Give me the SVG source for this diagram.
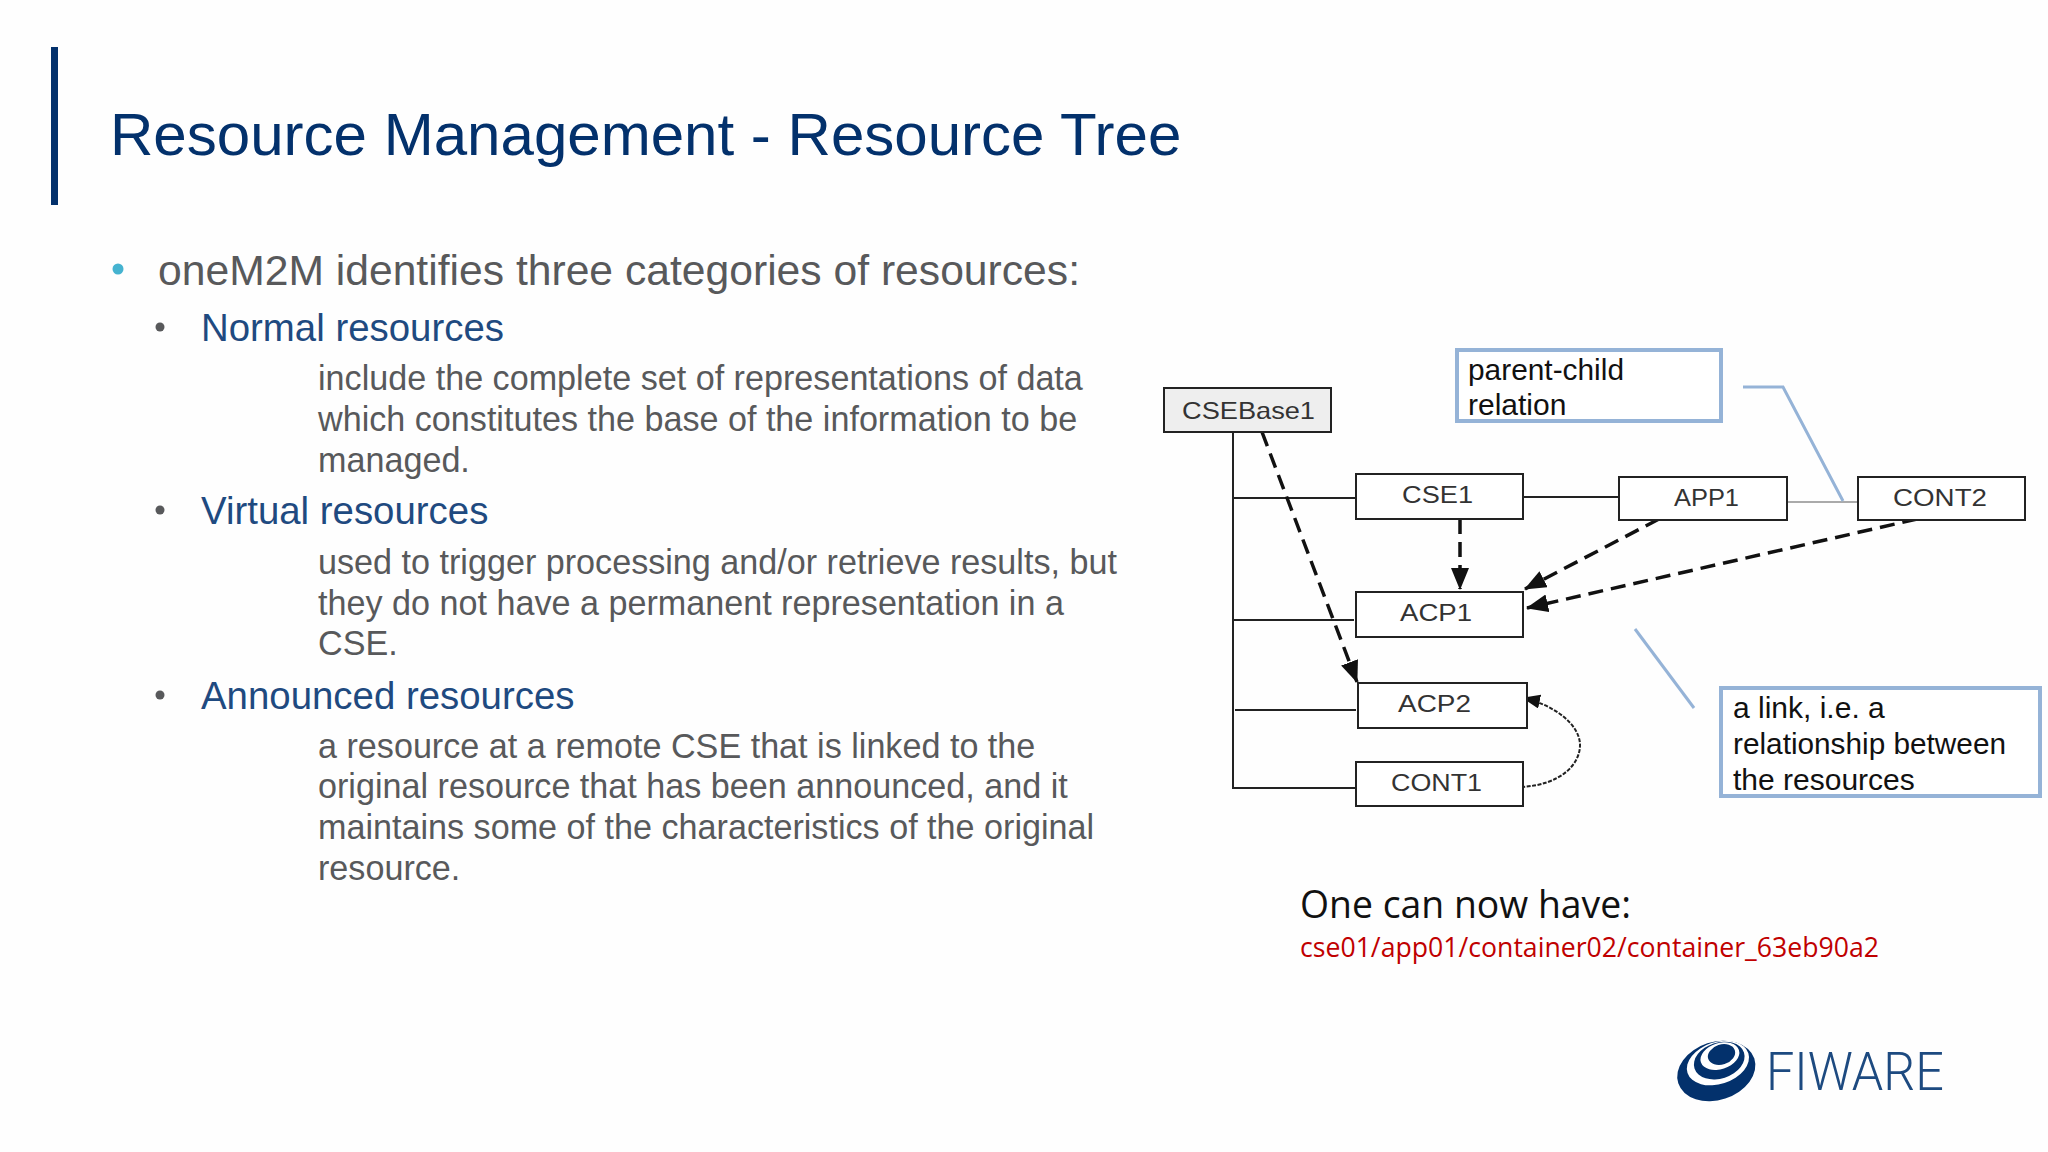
<svg xmlns="http://www.w3.org/2000/svg" width="2048" height="1152" viewBox="0 0 2048 1152">
<defs>
<marker id="ah" markerUnits="userSpaceOnUse" markerWidth="24" markerHeight="20" refX="21" refY="9" orient="auto"><path d="M0 0L22 9L0 18Z" fill="#111"/></marker>
<marker id="ahs" markerUnits="userSpaceOnUse" markerWidth="20" markerHeight="16" refX="17" refY="7" orient="auto"><path d="M0 0L18 7L0 14Z" fill="#111"/></marker>
</defs>
<style>
text{font-family:"Liberation Sans",Arial,sans-serif}
.title{font-size:60.05px;fill:#03316c}
.l1{font-size:42.65px;fill:#58595b}
.l2{font-size:38.4px;fill:#1f4a80}
.body{font-size:34.15px;fill:#58595b}
.box{fill:#fff;stroke:#222;stroke-width:2}
.lbl{font-size:24px;fill:#333}
.tree{fill:none;stroke:#222;stroke-width:2}
.dash{fill:none;stroke:#111;stroke-width:3.5;stroke-dasharray:15 8;marker-end:url(#ah)}
.call{fill:none;stroke:#95b3d7;stroke-width:3}
.cbox{fill:#fff;stroke:#95b3d7;stroke-width:4}
.ct{font-size:30px;fill:#111}
</style>
<rect width="2048" height="1152" fill="#fefefe"/>
<rect x="51" y="47" width="7" height="158" fill="#03316c"/>
<text class="title" x="110" y="155">Resource Management - Resource Tree</text>
<circle cx="118" cy="269" r="5.5" fill="#45b3d0"/>
<text class="l1" x="158" y="285">oneM2M identifies three categories of resources:</text>
<circle cx="160" cy="327" r="4.5" fill="#58595b"/>
<text class="l2" x="201" y="341">Normal resources</text>
<text class="body" x="318" y="389.5">include the complete set of representations of data</text>
<text class="body" x="318" y="430.5">which constitutes the base of the information to be</text>
<text class="body" x="318" y="471.5">managed.</text>
<circle cx="160" cy="510" r="4.5" fill="#58595b"/>
<text class="l2" x="201" y="524">Virtual resources</text>
<text class="body" x="318" y="573.5">used to trigger processing and/or retrieve results, but</text>
<text class="body" x="318" y="614.5">they do not have a permanent representation in a</text>
<text class="body" x="318" y="654.5">CSE.</text>
<circle cx="160" cy="695" r="4.5" fill="#58595b"/>
<text class="l2" x="201" y="709">Announced resources</text>
<text class="body" x="318" y="757.5">a resource at a remote CSE that is linked to the</text>
<text class="body" x="318" y="798">original resource that has been announced, and it</text>
<text class="body" x="318" y="839">maintains some of the characteristics of the original</text>
<text class="body" x="318" y="880">resource.</text>

<g id="callouts">
<g id="callout-parent-child"><rect class="cbox" x="1457" y="350" width="264" height="71"/>
<text class="ct" x="1468" y="380" textLength="156" lengthAdjust="spacingAndGlyphs">parent-child</text><text class="ct" x="1468" y="415">relation</text></g>
<g id="callout-link"><rect class="cbox" x="1721" y="688" width="319" height="108"/>
<text class="ct" x="1733" y="718">a link, i.e. a</text><text class="ct" x="1733" y="754" textLength="273" lengthAdjust="spacingAndGlyphs">relationship between</text><text class="ct" x="1733" y="790">the resources</text></g>
</g>
<g id="connectors">
<path class="tree" d="M1233 432V788H1356M1233 498H1356M1233 620H1354M1235 710H1356M1523 497H1618"/>
<path d="M1787 502H1858" fill="none" stroke="#aaa" stroke-width="2"/>
<path class="call" d="M1743 387H1783L1843 501"/>
<path class="call" d="M1635 629L1694 708"/>
<path class="dash" d="M1262 432L1357 682"/>
<path class="dash" d="M1460 519V589"/>
<path class="dash" d="M1659 519L1525 589"/>
<path class="dash" d="M1917 519L1527 608"/>
<path d="M1521 787C1560 785 1580 765 1580 745C1580 725 1555 705 1523 698" fill="none" stroke="#222" stroke-width="2" stroke-dasharray="4 1.5" marker-end="url(#ahs)"/>
</g>
<g id="CSEBase1"><rect class="box" x="1164" y="388" width="167" height="44" style="fill:#eeeeee"/><text class="lbl" x="1182" y="419" textLength="133" lengthAdjust="spacingAndGlyphs">CSEBase1</text></g>
<g id="CSE1"><rect class="box" x="1356" y="474" width="167" height="45"/><text class="lbl" x="1402" y="503" textLength="71" lengthAdjust="spacingAndGlyphs">CSE1</text></g>
<g id="APP1"><rect class="box" x="1619" y="477" width="168" height="43"/><text class="lbl" x="1674" y="506" textLength="65" lengthAdjust="spacingAndGlyphs">APP1</text></g>
<g id="CONT2"><rect class="box" x="1858" y="477" width="167" height="43"/><text class="lbl" x="1893" y="506" textLength="94" lengthAdjust="spacingAndGlyphs">CONT2</text></g>
<g id="ACP1"><rect class="box" x="1356" y="592" width="167" height="45"/><text class="lbl" x="1400" y="621" textLength="72" lengthAdjust="spacingAndGlyphs">ACP1</text></g>
<g id="ACP2"><rect class="box" x="1358" y="683" width="169" height="45"/><text class="lbl" x="1398" y="712" textLength="73" lengthAdjust="spacingAndGlyphs">ACP2</text></g>
<g id="CONT1"><rect class="box" x="1356" y="762" width="167" height="44"/><text class="lbl" x="1391" y="791" textLength="91" lengthAdjust="spacingAndGlyphs">CONT1</text></g>

<text x="1300" y="918" font-size="38" fill="#111" style="font-family:'Open Sans',sans-serif" textLength="331" lengthAdjust="spacingAndGlyphs">One can now have:</text>
<text x="1300" y="957" font-size="27" fill="#c00000" style="font-family:'Open Sans',sans-serif" textLength="579" lengthAdjust="spacingAndGlyphs">cse01/app01/container02/container_63eb90a2</text>

<g id="logo">
<g transform="rotate(-18 1716 1070)">
<ellipse cx="1716" cy="1071" rx="40" ry="29" fill="#03316c"/>
<ellipse cx="1720" cy="1064" rx="32" ry="21" fill="#fff"/>
<ellipse cx="1722" cy="1062" rx="26" ry="18" fill="#03316c"/>
<ellipse cx="1724" cy="1058" rx="20" ry="13" fill="#fff"/>
<ellipse cx="1726" cy="1057" rx="14" ry="10" fill="#03316c"/>
</g>
<text x="1766" y="1090" font-size="54" font-weight="300" fill="#1d4a80" style="font-family:Roboto,sans-serif" textLength="178" lengthAdjust="spacingAndGlyphs">FIWARE</text>
</g>
</svg>
